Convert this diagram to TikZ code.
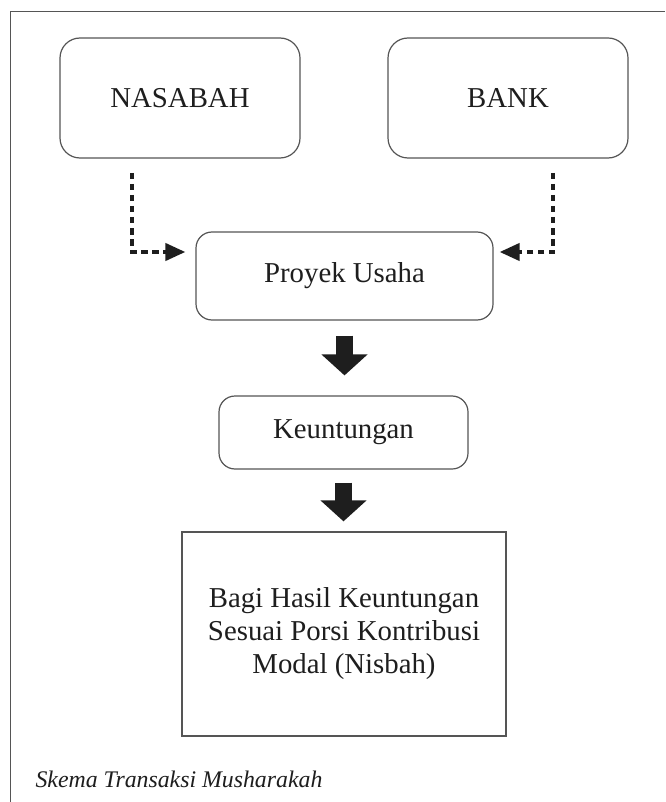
\documentclass[tikz,border=0pt]{standalone}
\usepackage{fontspec}
\setmainfont{Liberation Serif}
\usetikzlibrary{arrows.meta,calc}
\definecolor{boxline}{HTML}{555555}
\definecolor{ink}{HTML}{1E1E1E}
\begin{document}
\begin{tikzpicture}[x=1pt,y=-1pt,
  roundbox/.style={draw=boxline,line width=1.2pt,rounded corners=#1,inner sep=0pt,
    text=ink,font=\fontsize{28.8}{33}\selectfont,align=center},
  roundbox/.default=20pt,
  squarebox/.style={draw=boxline,line width=1.3pt,inner sep=0pt,text=ink,
    font=\fontsize{28.8}{33}\selectfont,align=center},
  dasharrow/.style={draw=ink,line width=4pt,dash pattern=on 6.5pt off 4.5pt,
    -{Triangle[length=20pt,width=17pt]}},
  blockarrow/.style={draw=ink,line width=17pt,-{Triangle[length=21pt,width=45pt]}},
  frameline/.style={draw=boxline,line width=1.5pt}
]
\useasboundingbox (0,0) rectangle (665,802);
\fill[white] (0,0) rectangle (665,802);
% outer frame (partial)
\draw[frameline] (10.5,802) -- (10.5,11.5) -- (665,11.5);

\node[roundbox, minimum width=240pt, minimum height=120pt] (nasabah) at (180,98) {NASABAH};
\node[roundbox, minimum width=240pt, minimum height=120pt] (bank) at (508,98) {BANK};
\node[roundbox=16pt, minimum width=297pt, minimum height=88pt] (proyek) at (344.5,276) {Proyek Usaha};
\node[roundbox=16pt, minimum width=249pt, minimum height=73pt] (untung) at (343.5,432.5) {Keuntungan};
\node[squarebox, minimum width=324pt, minimum height=204pt] (bagi) at (344,634)
  {Bagi Hasil Keuntungan\\Sesuai Porsi Kontribusi\\Modal (Nisbah)};

\coordinate (nstart) at (132,173);
\coordinate (bstart) at (553,173);
\draw[dasharrow] (nstart) |- ($(proyek.west)+(-10,-24)$);
\draw[dasharrow] (bstart) |- ($(proyek.east)+(6,-24)$);

\draw[blockarrow, shorten <=15pt, shorten >=20pt] (proyek.south) -- (proyek.south |- untung.north);
\draw[blockarrow, shorten <=13pt, shorten >=10pt] (untung.south) -- (untung.south |- bagi.north);

\node[anchor=base west, text=ink, font=\fontsize{23.8}{27}\selectfont\itshape] (caption) at (32,787)
  {Skema Transaksi Musharakah};
\end{tikzpicture}
\end{document}
